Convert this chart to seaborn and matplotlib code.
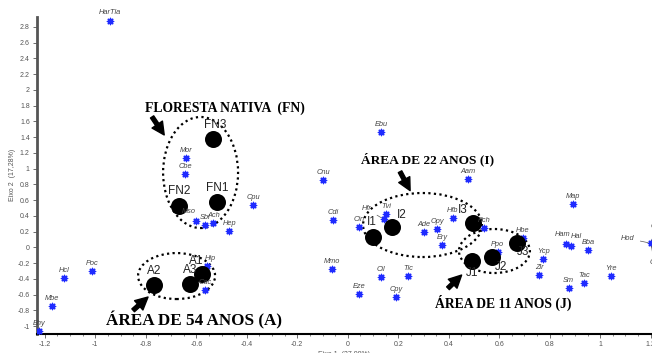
import numpy as np
import pandas as pd
import matplotlib
matplotlib.use("Agg")
import matplotlib.pyplot as plt
import seaborn as sns
from matplotlib.patches import Ellipse
from matplotlib.ticker import FuncFormatter, MultipleLocator

### Data
species = ["HarTla", "Mor", "Cbe", "Mso", "Sbl", "Ach", "Hep", "Cpu", "Hip", "Cac",
           "Poc", "Hcl", "Mbe", "Bhy", "Ebu", "Cnu", "Cdi", "Mmo", "Eze", "Cil",
           "Cpy", "Tlc", "Cin", "Hfr", "Tvi", "Ade", "Aam", "Hfb", "Opy", "Ery",
           "Pch", "Hbe", "Ppo", "Map", "Ham", "Hal", "Bba", "Ycp", "Zir", "Sm",
           "Tac", "Yre", "Hod"]
sp_x = [-0.941, -0.642, -0.644, -0.602, -0.566, -0.532, -0.470, -0.374, -0.556, -0.566,
        -1.013, -1.122, -1.172, -1.221, 0.132, -0.097, -0.059, -0.062, 0.046, 0.132,
        0.191, 0.239, 0.044, 0.143, 0.152, 0.302, 0.475, 0.416, 0.355, 0.373,
        0.541, 0.694, 0.594, 0.892, 0.863, 0.884, 0.953, 0.775, 0.758, 0.875,
        0.936, 1.044, 1.201]
sp_y = [2.879, 1.131, 0.928, 0.338, 0.283, 0.313, 0.207, 0.537, -0.238, -0.543,
        -0.301, -0.386, -0.746, -1.064, 1.461, 0.855, 0.347, -0.280, -0.593, -0.373,
        -0.627, -0.365, 0.254, 0.356, 0.419, 0.198, 0.864, 0.376, 0.229, 0.025,
        0.249, 0.122, -0.060, 0.550, 0.042, 0.017, -0.034, -0.149, -0.352, -0.513,
        -0.457, -0.365, 0.051]

samples = ["FN1", "FN2", "FN3", "A1", "A2", "A3", "I1", "I2", "I3", "J1", "J2", "J3"]
sa_x = [-0.516, -0.668, -0.532, -0.578, -0.766, -0.623, 0.101, 0.175, 0.495, 0.491, 0.573, 0.672]
sa_y = [0.572, 0.529, 1.375, -0.343, -0.483, -0.470, 0.135, 0.262, 0.313, -0.174, -0.127, 0.058]

# label offsets (points) for the sample names
sa_off = {"FN1": (0, 6), "FN2": (0, 6), "FN3": (1, 6), "A1": (-4, 5), "A2": (0, 6), "A3": (0, 6),
          "I1": (-1, 6), "I2": (7, 4), "I3": (-7, 5), "J1": (0, -13), "J2": (6, -11), "J3": (4, -11)}
# odd species label offsets (points), default is straight above
sp_off = {"Mso": (-5, 4), "Hfr": (-9, 5), "Hod": (-12, 1), "Cac": (0, 3), "Hip": (2, 3),
          "Ham": (-2, 4), "Hal": (4, 4)}

groups = ["FLORESTA NATIVA  (FN)", "ÁREA DE 22 ANOS (I)", "ÁREA DE 54 ANOS (A)", "ÁREA DE 11 ANOS (J)"]

df_sp = pd.DataFrame({"name": species, "x": sp_x, "y": sp_y})
df_sa = pd.DataFrame({"name": samples, "x": sa_x, "y": sa_y})

sns.set_style("white")
plt.rcParams["font.family"] = ["Liberation Sans", "DejaVu Sans"]
plt.rcParams["axes.unicode_minus"] = False

fig = plt.figure(figsize=(6.52, 3.53), dpi=100)
ax = fig.add_axes([0.0563, 0.054, 0.9437, 0.899])

sns.scatterplot(data=df_sp, x="x", y="y", ax=ax, marker=(8, 2, 0), s=20,
                color="#1f2bff", linewidth=1.0, edgecolor="#1f2bff", zorder=3)
sns.scatterplot(data=df_sa, x="x", y="y", ax=ax, marker="o", s=150,
                color="black", linewidth=0, zorder=4)

for _, r in df_sp.iterrows():
    dx, dy = sp_off.get(r["name"], (0, 3))
    ha = "center" if dx == 0 or abs(dx) < 6 else ("right" if dx < 0 else "left")
    arrow = dict(arrowstyle="-", color="#555555", lw=0.5) if r["name"] in ("Hfr", "Hod") else None
    ax.annotate(r["name"], (r["x"], r["y"]), xytext=(dx, dy), textcoords="offset points",
                ha=ha, va="bottom" if dy > 0 else "center", fontsize=5.3, style="italic",
                color="#444444", arrowprops=arrow, zorder=5)

# points off the right edge, only their labels show
ax.annotate("Oc", (1.201, 0.051), xytext=(0, 12), textcoords="offset points", fontsize=5.3,
            style="italic", color="#444444", ha="left", va="center",
            arrowprops=dict(arrowstyle="-", color="#555555", lw=0.5), annotation_clip=False)
ax.annotate("Cs", (1.201, 0.051), xytext=(-1, -14), textcoords="offset points", fontsize=5.3,
            style="italic", color="#444444", ha="left", va="center",
            arrowprops=dict(arrowstyle="-", color="#555555", lw=0.5), annotation_clip=False)

for _, r in df_sa.iterrows():
    dx, dy = sa_off[r["name"]]
    ax.annotate(r["name"], (r["x"], r["y"]), xytext=(dx, dy), textcoords="offset points",
                ha="center", va="bottom", fontsize=8.5, color="#222222", zorder=5)

# dotted group ellipses
for cx, cy, w, h, ang in [(-0.583, 0.95, 0.297, 1.41, 0), (-0.678, -0.365, 0.305, 0.584, 0),
                          (0.296, 0.283, 0.471, 0.813, 0), (0.581, -0.047, 0.281, 0.559, 0)]:
    ax.add_patch(Ellipse((cx, cy), w, h, angle=ang, fill=False, ls=(0, (1, 1.5)),
                         lw=1.6, color="black", zorder=2))

serif = dict(family=["Liberation Serif", "DejaVu Serif"], weight="bold", color="black")
arr = dict(facecolor="black", edgecolor="black", width=2.8, headwidth=9, headlength=9)
ax.text(-0.487, 1.77, groups[0], ha="center", va="center", fontsize=9.8, **serif)
ax.annotate("", xy=(-0.727, 1.427), xytext=(-0.775, 1.656), arrowprops=arr)
ax.text(0.318, 1.12, groups[1], ha="center", va="center", fontsize=9.6, **serif)
ax.annotate("", xy=(0.247, 0.72), xytext=(0.207, 0.96), arrowprops=arr)
ax.text(-0.608, -0.93, groups[2], ha="center", va="center", fontsize=12.3, **serif)
ax.annotate("", xy=(-0.791, -0.631), xytext=(-0.850, -0.80), arrowprops=arr)
ax.text(0.617, -0.70, groups[3], ha="center", va="center", fontsize=9.8, **serif)
ax.annotate("", xy=(0.451, -0.352), xytext=(0.397, -0.52), arrowprops=arr)

ax.set_xlim(-1.232, 1.205)
ax.set_ylim(-1.10, 2.93)
ax.xaxis.set_major_locator(MultipleLocator(0.2))
ax.xaxis.set_minor_locator(MultipleLocator(0.05))
ax.yaxis.set_major_locator(MultipleLocator(0.2))
fmt = FuncFormatter(lambda v, p: "%g" % round(v, 2))
ax.xaxis.set_major_formatter(fmt)
ax.yaxis.set_major_formatter(fmt)
ax.tick_params(axis="both", which="major", labelsize=5, length=3, width=0.6,
               colors="#555555", labelcolor="#555555", pad=2, direction="out")
ax.tick_params(axis="x", which="minor", length=1.5, width=0.5, colors="#555555")
ax.tick_params(bottom=True, left=True, which="both")
ax.tick_params(axis="y", which="minor", left=False)

sns.despine(ax=ax)
ax.spines["left"].set_color("#555555")
ax.spines["left"].set_linewidth(2)
ax.spines["bottom"].set_color("black")
ax.spines["bottom"].set_linewidth(1.5)

ax.set_xlabel("Eixo 1  (37,00%)", fontsize=5, color="#555555", labelpad=2)
ax.set_ylabel("Eixo 2  (17,28%)", fontsize=5, color="#555555", labelpad=1)

fig.savefig("out.png", dpi=100)
